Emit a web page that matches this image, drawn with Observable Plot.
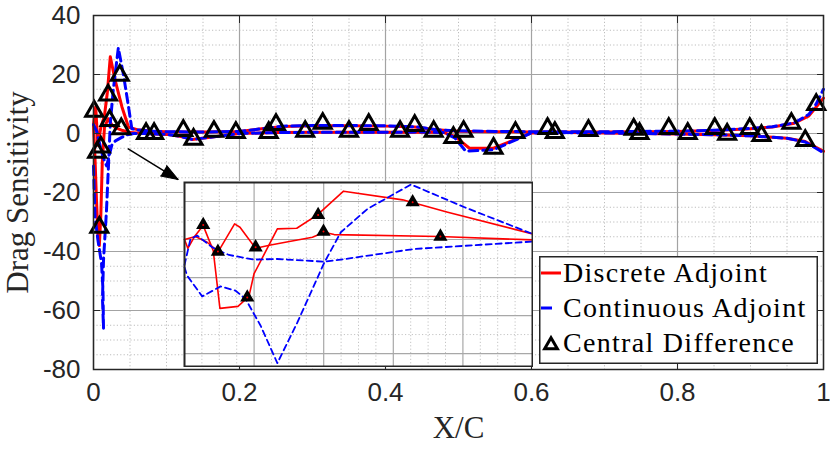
<!DOCTYPE html>
<html><head><meta charset="utf-8">
<script src="https://cdn.jsdelivr.net/npm/d3@7"></script>
<script src="https://cdn.jsdelivr.net/npm/@observablehq/plot@0.6"></script>
<style>
body{margin:0;background:white;}
#wrap{position:relative;width:830px;height:449px;overflow:hidden;}
#inset{position:absolute;left:183px;top:181px;}
#legend{position:absolute;left:539px;top:256px;}
</style></head><body><div id="wrap"></div>
<script>
// ---------- tick values ----------
const xTicks = [0, 0.2, 0.4, 0.6, 0.8, 1];
const xMinorTicks = [0.05, 0.1, 0.15, 0.25, 0.3, 0.35, 0.45, 0.5, 0.55, 0.65, 0.7, 0.75, 0.85, 0.9, 0.95];
const yTicks = [-80, -60, -40, -20, 0, 20, 40];
const yMinorTicks = [-75, -70, -65, -55, -50, -45, -35, -30, -25, -15, -10, -5, 5, 10, 15, 25, 30, 35];

// ---------- main series ----------
const discreteUpperX = [0, 0.003, 0.006, 0.01, 0.015, 0.019, 0.023, 0.0297, 0.039, 0.048, 0.06, 0.08, 0.1, 0.15, 0.2, 0.23, 0.26, 0.3, 0.35, 0.4, 0.44, 0.47, 0.5, 0.55, 0.6, 0.65, 0.7, 0.75, 0.8, 0.85, 0.9, 0.93, 0.96, 0.98, 0.99, 1];
const discreteUpperY = [3, 9, -4, 2, 6, 14, 26, 18, 9, 2.1, 1.3, 0.8, 0.6, 0.5, 0.7, 1.6, 2.4, 2.6, 2.6, 2.5, 2.2, 1.3, 0.8, 0.6, 0.5, 0.5, 0.5, 0.6, 0.7, 1.0, 1.6, 2.2, 3.5, 6, 9, 12];

const discreteLowerX = [0, 0.002, 0.004, 0.006, 0.008, 0.01, 0.012, 0.015, 0.02, 0.025, 0.03, 0.04, 0.05, 0.07, 0.1, 0.12, 0.135, 0.16, 0.2, 0.25, 0.3, 0.35, 0.4, 0.45, 0.48, 0.495, 0.515, 0.548, 0.6, 0.65, 0.7, 0.75, 0.8, 0.85, 0.9, 0.95, 0.975, 1];
const discreteLowerY = [3, -8, -22, -34, -38, -28, -10, 2, 5, 3, 2, 1, 0.3, 0, -0.3, -1, -2, -1.3, 0, 0.3, 0.4, 0.4, 0.4, 0.5, 0.3, -1, -5, -5, 0.2, 0.3, 0.2, 0, -0.2, -0.4, -0.8, -1.6, -2.7, -6];

const continuousUpperX = [0, 0.002, 0.006, 0.011, 0.013, 0.0137, 0.0123, 0.0137, 0.0178, 0.0205, 0.023, 0.027, 0.034, 0.041, 0.048, 0.0525, 0.06, 0.08, 0.1, 0.15, 0.2, 0.23, 0.26, 0.3, 0.35, 0.4, 0.44, 0.47, 0.5, 0.55, 0.6, 0.65, 0.7, 0.75, 0.8, 0.85, 0.9, 0.93, 0.96, 0.98, 0.99, 1];
const continuousUpperY = [-11, -28, -36, -44, -53, -66, -56, -43, -26, -11, 3.4, 14.6, 29, 20, 9, 1.6, 1.2, 0.8, 0.6, 0.5, 0.7, 1.6, 2.5, 2.7, 2.7, 2.6, 2.3, 1.3, 0.9, 0.7, 0.6, 0.6, 0.6, 0.7, 0.8, 1.1, 1.7, 2.3, 3.6, 6.5, 10, 15];

const continuousLowerX = [0, 0.004, 0.008, 0.013, 0.018, 0.025, 0.03, 0.038, 0.045, 0.055, 0.07, 0.1, 0.12, 0.135, 0.16, 0.2, 0.25, 0.3, 0.35, 0.4, 0.45, 0.48, 0.495, 0.51, 0.548, 0.6, 0.65, 0.7, 0.75, 0.8, 0.85, 0.9, 0.95, 0.975, 1];
const continuousLowerY = [3, 1, -3, -8, -11, -4, -2.5, -1.4, -0.5, 0, 0, -0.3, -1, -2, -1.3, 0, 0.3, 0.4, 0.4, 0.4, 0.5, 0.3, -1.5, -6, -5.5, 0.2, 0.3, 0.2, 0, -0.2, -0.4, -0.8, -1.6, -2.9, -6.5];

const centralX = [0.001, 0.005, 0.008, 0.01, 0.02, 0.022, 0.036, 0.038, 0.072, 0.083, 0.123, 0.137, 0.165, 0.195, 0.24, 0.25, 0.29, 0.314, 0.35, 0.377, 0.42, 0.44, 0.466, 0.493, 0.507, 0.548, 0.578, 0.622, 0.632, 0.678, 0.74, 0.748, 0.788, 0.814, 0.851, 0.868, 0.899, 0.915, 0.956, 0.975, 0.99];
const centralY = [7.5, -6.4, -31.8, -4.6, 13, 4.4, 19.7, 1.6, 0, 0, 1, -2, 0.7, 0.3, 0.3, 3, 0.7, 3.4, 0.7, 3, 0.7, 2.7, 0.7, -1.4, 0.7, -5, 0.3, 1.7, 0.3, 1, 1.4, 0, 1.7, 0, 1.7, -0.3, 1.7, -0.7, 3.4, -2.4, 9.8];

// ---------- inset (zoomed leading-edge detail) ----------
const insetXTicks = [0.01, 0.02, 0.03, 0.04];
const insetXMinorTicks = [0.0025, 0.005, 0.0075, 0.0125, 0.015, 0.0175, 0.0225, 0.025, 0.0275, 0.0325, 0.035, 0.0375, 0.0425, 0.045, 0.0475];
const insetYTicks = [-10, -5, 0, 5, 10];
const insetYMinorTicks = [-7.5, -2.5, 2.5, 7.5];

const insetDiscreteAX = [0, 0.00048, 0.00144, 0.00269, 0.00413, 0.00509, 0.00768, 0.00926, 0.00998, 0.01334, 0.01613, 0.0191, 0.02285, 0.03134, 0.03782, 0.05];
const insetDiscreteAY = [5.0, 3.85, 5.39, 6.83, 3.54, -4.06, -3.79, -2.48, 0.47, 6.4, 6.48, 8.24, 11.36, 10.22, 8.59, 5.74];
const insetDiscreteBX = [0, 0.00158, 0.00326, 0.00485, 0.0072, 0.00797, 0.01022, 0.01238, 0.01526, 0.01838, 0.02006, 0.0215, 0.03662, 0.05];
const insetDiscreteBY = [5.0, 5.39, 4.64, 3.41, 7.05, 6.62, 3.85, 4.29, 4.77, 5.3, 5.96, 5.65, 5.39, 4.95];
const insetContinuousAX = [0, 0.00086, 0.00182, 0.00398, 0.00494, 0.00638, 0.00998, 0.01334, 0.02006, 0.02246, 0.03302, 0.05];
const insetContinuousAY = [1.65, 5.08, 5.52, 3.98, 3.54, 2.97, 2.36, 2.44, 2.09, 2.36, 3.76, 4.73];
const insetContinuousBX = [0, 0.00038, 0.00254, 0.00518, 0.00734, 0.00878, 0.01094, 0.01334, 0.01622, 0.02006, 0.02246, 0.0263, 0.03254, 0.04022, 0.05];
const insetContinuousBY = [1.35, 0.25, -2.48, -1.16, -1.73, -2.83, -6.34, -11.26, -5.9, 1.92, 5.96, 9.03, 12.24, 9.25, 5.74];
const insetCentralX = [0.00269, 0.0048, 0.01022, 0.00902, 0.0192, 0.01997, 0.03278, 0.03677];
const insetCentralY = [6.92, 3.41, 3.98, -2.61, 8.24, 6.04, 9.91, 5.39];

// ---------- annotation arrow ----------
const arrowFrom = {x: 0.047, y: -5.1};
const arrowTo = {x: 0.116, y: -15.6};
const arrowHeadText = {x: 0.108, y: -14.4};

const labels = {x: "X/C", y: "Drag Sensitivity", series: ["Discrete Adjoint", "Continuous Adjoint", "Central Difference"]};

const rows = (xs, ys) => xs.map((x, i) => ({x, y: ys[i]}));
const RED = "#ff0000", BLUE = "#0000ff", INK = "#262626";
const fmt = d => String(d);

function buildMain(useVector) {
  const head = useVector
    ? Plot.vector([arrowTo], {x: "x", y: "y", length: 17, rotate: 121, shape: "spike", r: 6, anchor: "end", fill: "black", stroke: "black", strokeWidth: 1})
    : Plot.text([arrowHeadText], {x: "x", y: "y", text: () => "\u25B6", rotate: 31, fontSize: 22, fill: "black", fontFamily: "'DejaVu Sans', sans-serif", lineAnchor: "middle", textAnchor: "middle"});
  return Plot.plot({
    width: 830, height: 449,
    marginLeft: 93, marginRight: 7, marginTop: 15, marginBottom: 80,
    x: {domain: [0, 1], label: null},
    y: {domain: [-80, 40], label: null},
    style: {background: "white", fontFamily: "'Liberation Sans', Arial, sans-serif", color: INK},
    marks: [
      Plot.gridX(xMinorTicks, {stroke: "#bdbdbd", strokeOpacity: 1, strokeDasharray: "1.2,2.2", strokeWidth: 1}),
      Plot.gridY(yMinorTicks, {stroke: "#bdbdbd", strokeOpacity: 1, strokeDasharray: "1.2,2.2", strokeWidth: 1}),
      Plot.gridX(xTicks, {stroke: "#a3a3a3", strokeOpacity: 1, strokeWidth: 1.2}),
      Plot.gridY(yTicks, {stroke: "#a3a3a3", strokeOpacity: 1, strokeWidth: 1.2}),
      Plot.line(rows(discreteUpperX, discreteUpperY), {x: "x", y: "y", stroke: RED, strokeWidth: 3}),
      Plot.line(rows(discreteLowerX, discreteLowerY), {x: "x", y: "y", stroke: RED, strokeWidth: 3}),
      Plot.line(rows(continuousUpperX, continuousUpperY), {x: "x", y: "y", stroke: BLUE, strokeWidth: 3, strokeDasharray: "9,5"}),
      Plot.line(rows(continuousLowerX, continuousLowerY), {x: "x", y: "y", stroke: BLUE, strokeWidth: 3, strokeDasharray: "9,5"}),
      Plot.dot(rows(centralX, centralY), {x: "x", y: "y", symbol: "triangle", r: 6.3, stroke: "black", strokeWidth: 3, fill: "none"}),
      Plot.link([{a: arrowFrom, b: arrowTo}], {x1: d => d.a.x, y1: d => d.a.y, x2: d => d.b.x, y2: d => d.b.y, stroke: "black", strokeWidth: 1.5}),
      head,
      Plot.frame({stroke: INK, strokeWidth: 1.5}),
      Plot.axisX(xTicks, {anchor: "bottom", tickSize: -7, tickPadding: 20, tickFormat: fmt, fontSize: 26, stroke: INK, fill: INK, label: null}),
      Plot.axisX(xTicks, {anchor: "top", tickSize: -7, tickFormat: () => "", stroke: INK, label: null}),
      Plot.axisY(yTicks, {anchor: "left", tickSize: -7, tickPadding: 20, tickFormat: fmt, fontSize: 26, stroke: INK, fill: INK, label: null}),
      Plot.axisY(yTicks, {anchor: "right", tickSize: -7, tickFormat: () => "", stroke: INK, label: null}),
      Plot.text([labels.x], {frameAnchor: "bottom", dy: 59, text: d => d, fontSize: 31, fontFamily: "'Liberation Serif', serif", fill: INK, lineAnchor: "middle", textAnchor: "middle", ariaLabel: "xlabel"}),
      Plot.text([labels.y], {frameAnchor: "left", dx: -75, rotate: -90, text: d => d, fontSize: 31, fontFamily: "'Liberation Serif', serif", fill: INK, lineAnchor: "middle", textAnchor: "middle", ariaLabel: "ylabel"})
    ]
  });
}

let main;
try { main = buildMain(true); } catch (e) { main = buildMain(false); }

const wrap = document.getElementById("wrap");
wrap.appendChild(main);
main.querySelectorAll('g[aria-label="xlabel"] text').forEach(t => t.style.letterSpacing = "4px");
main.querySelectorAll('g[aria-label="ylabel"] text').forEach(t => t.style.letterSpacing = "1.6px");

const inset = Plot.plot({
  width: 350, height: 186,
  marginLeft: 1, marginRight: 1, marginTop: 1, marginBottom: 1,
  x: {domain: [0, 0.05], axis: null},
  y: {domain: [-11.7, 12.5], axis: null},
  style: {background: "white"},
  marks: [
    Plot.gridX(insetXMinorTicks, {stroke: "#c4c4c4", strokeOpacity: 1, strokeDasharray: "1.2,2.2", strokeWidth: 1}),
    Plot.gridY(insetYMinorTicks, {stroke: "#c4c4c4", strokeOpacity: 1, strokeDasharray: "1.2,2.2", strokeWidth: 1}),
    Plot.gridX(insetXTicks, {stroke: "#a8a8a8", strokeOpacity: 1, strokeWidth: 1.2}),
    Plot.gridY(insetYTicks, {stroke: "#a8a8a8", strokeOpacity: 1, strokeWidth: 1.2}),
    Plot.line(rows(insetDiscreteAX, insetDiscreteAY), {x: "x", y: "y", stroke: RED, strokeWidth: 1.6}),
    Plot.line(rows(insetDiscreteBX, insetDiscreteBY), {x: "x", y: "y", stroke: RED, strokeWidth: 1.6}),
    Plot.line(rows(insetContinuousAX, insetContinuousAY), {x: "x", y: "y", stroke: BLUE, strokeWidth: 1.8, strokeDasharray: "6,4"}),
    Plot.line(rows(insetContinuousBX, insetContinuousBY), {x: "x", y: "y", stroke: BLUE, strokeWidth: 1.8, strokeDasharray: "6,4"}),
    Plot.dot(rows(insetCentralX, insetCentralY), {x: "x", y: "y", symbol: "triangle", r: 4, fill: "black", stroke: "black", strokeWidth: 2}),
    Plot.dot(rows(insetCentralX, insetCentralY), {x: "x", y: "y", r: 1, fill: RED}),
    Plot.frame({stroke: INK, strokeWidth: 2})
  ]
});
inset.id = "inset";
wrap.appendChild(inset);

// legend (inside axes, MATLAB style)
const legend = d3.create("svg").attr("id", "legend").attr("width", 279).attr("height", 108);
legend.append("rect").attr("x", 0.75).attr("y", 0.75).attr("width", 277.5).attr("height", 106.5)
  .attr("fill", "white").attr("stroke", INK).attr("stroke-width", 1.5);
const rowsY = [26, 61, 96];
legend.append("line").attr("x1", 2).attr("x2", 22).attr("y1", 17).attr("y2", 17).attr("stroke", RED).attr("stroke-width", 3);
legend.append("line").attr("x1", 2).attr("x2", 13).attr("y1", 52).attr("y2", 52).attr("stroke", BLUE).attr("stroke-width", 3);
legend.append("path").attr("d", d3.symbol(d3.symbolTriangle, 70)()).attr("transform", "translate(12,89)")
  .attr("fill", "none").attr("stroke", "black").attr("stroke-width", 3);
labels.series.forEach((s, i) => {
  legend.append("text").attr("x", 24).attr("y", rowsY[i]).text(s)
    .attr("font-family", "'Liberation Serif', serif").attr("font-size", 28)
    .attr("letter-spacing", "1.3px").attr("fill", "black");
});
wrap.appendChild(legend.node());
</script></body></html>
